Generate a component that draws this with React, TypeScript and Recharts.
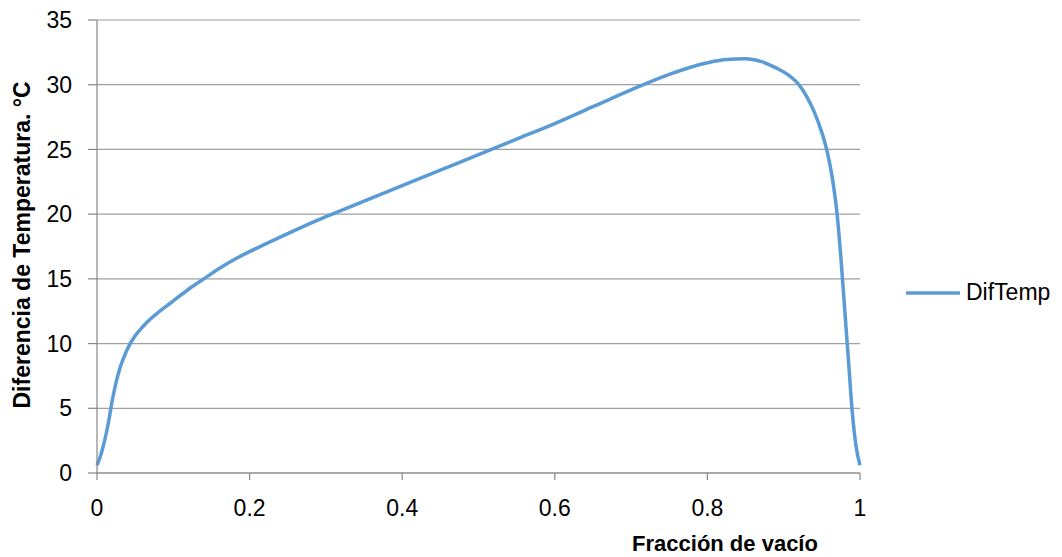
import React from 'react';
import { LineChart, Line, XAxis, YAxis, CartesianGrid, Legend, Label } from 'recharts';

const fraccion = [0, 0.005, 0.01, 0.015, 0.02, 0.025, 0.03, 0.035, 0.04, 0.05, 0.06, 0.07, 0.08, 0.09, 0.1, 0.12, 0.14, 0.16, 0.18, 0.2, 0.25, 0.3, 0.35, 0.4, 0.45, 0.5, 0.55, 0.6, 0.65, 0.7, 0.75, 0.8, 0.825, 0.85, 0.87, 0.89, 0.905, 0.92, 0.93, 0.94, 0.95, 0.955, 0.96, 0.965, 0.97, 0.975, 0.98, 0.985, 0.99, 0.995, 1];
const difTemp = [0.6, 1.4, 2.5, 3.9, 5.6, 7.0, 8.1, 8.9, 9.6, 10.6, 11.3, 11.9, 12.4, 12.85, 13.3, 14.2, 15.0, 15.8, 16.5, 17.1, 18.5, 19.8, 21.0, 22.2, 23.4, 24.6, 25.8, 27.0, 28.3, 29.6, 30.8, 31.7, 31.95, 32.0, 31.8, 31.3, 30.8, 30.0, 29.1, 27.9, 26.3, 25.3, 24.0, 22.3, 20.0, 16.6, 12.6, 8.6, 4.6, 2.0, 0.6];
const xTicks = [0, 0.2, 0.4, 0.6, 0.8, 1];
const yTicks = [0, 5, 10, 15, 20, 25, 30, 35];
const seriesName = 'DifTemp';
const xTitle = 'Fracción de vacío';
const yTitle = 'Diferencia de Temperatura. °C';

const data = fraccion.map((x, i) => ({ x, y: difTemp[i] }));

const FONT = '"Liberation Sans", Arial, sans-serif';
const LINE_COLOR = '#5b9bd5';

const LegendContent = () => (
  <div style={{ display: 'flex', alignItems: 'center', fontFamily: FONT, fontSize: 23, color: '#000' }}>
    <svg width={54} height={10} style={{ display: 'block' }}>
      <line x1={1} y1={5} x2={53} y2={5} stroke={LINE_COLOR} strokeWidth={3.5} strokeLinecap="round" />
    </svg>
    <span style={{ marginLeft: 6 }}>{seriesName}</span>
  </div>
);

export default function App() {
  return (
    <div style={{ position: 'absolute', left: 0, top: 0, width: 1062, height: 557, background: '#fff' }}>
      <LineChart width={1062} height={557} data={data} margin={{ top: 20, right: 202, bottom: 0, left: 0 }}>
        <CartesianGrid horizontal={true} vertical={false} stroke="#a0a0a0" strokeWidth={1.2} />
        <XAxis
          dataKey="x"
          type="number"
          domain={[0, 1]}
          ticks={xTicks}
          interval={0}
          height={84}
          tickSize={7}
          tickMargin={20}
          axisLine={{ stroke: '#868686', strokeWidth: 1.2 }}
          tickLine={{ stroke: '#868686', strokeWidth: 1.2 }}
          tick={{ fill: '#000', fontSize: 23, fontFamily: FONT }}
        >
          <Label
            content={() => (
              <text x={725} y={551} textAnchor="middle" fontFamily={FONT} fontSize={22} fontWeight="bold" fill="#000">
                {xTitle}
              </text>
            )}
          />
        </XAxis>
        <YAxis
          type="number"
          domain={[0, 35]}
          ticks={yTicks}
          interval={0}
          width={97}
          tickSize={9}
          tickMargin={16}
          axisLine={{ stroke: '#868686', strokeWidth: 1.2 }}
          tickLine={{ stroke: '#868686', strokeWidth: 1.2 }}
          tick={{ fill: '#000', fontSize: 23, fontFamily: FONT }}
        >
          <Label
            content={() => (
              <text x={30} y={245} transform="rotate(-90, 30, 245)" textAnchor="middle" fontFamily={FONT} fontSize={23} fontWeight="bold" fill="#000">
                {yTitle}
              </text>
            )}
          />
        </YAxis>
        <Legend
          layout="vertical"
          align="center"
          verticalAlign="middle"
          wrapperStyle={{ left: 906, top: 279, width: 156 }}
          content={() => <LegendContent />}
        />
        <Line
          type="monotone"
          dataKey="y"
          name={seriesName}
          stroke={LINE_COLOR}
          strokeWidth={3.5}
          dot={false}
          activeDot={false}
          isAnimationActive={false}
        />
      </LineChart>
    </div>
  );
}
